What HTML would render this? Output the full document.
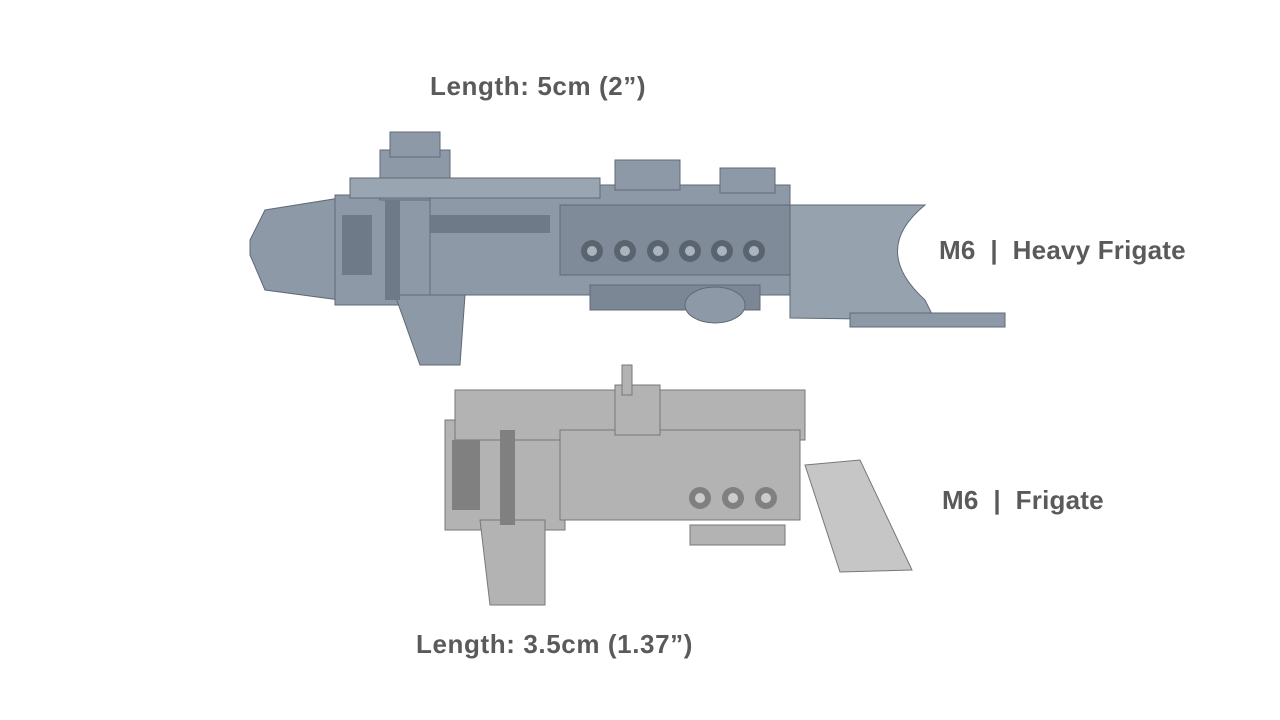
<!DOCTYPE html>
<html><head><meta charset="utf-8"><style>
html,body{margin:0;padding:0;background:#fff;width:1280px;height:720px;overflow:hidden}
.t{position:absolute;font-family:"Liberation Sans",sans-serif;font-weight:bold;color:#5a5a5a;font-size:26px;letter-spacing:0.6px;white-space:nowrap}
.m{letter-spacing:0.2px}
</style></head><body>
<div class="t" style="left:430px;top:71px">Length: 5cm (2”)</div>
<div class="t m" style="left:939px;top:235px">M6 &nbsp;|&nbsp; Heavy Frigate</div>
<div class="t m" style="left:942px;top:485px">M6 &nbsp;|&nbsp; Frigate</div>
<div class="t" style="left:416px;top:629px">Length: 3.5cm (1.37”)</div>
<svg width="1280" height="720" style="position:absolute;left:0;top:0">
<g fill="#8d99a7" stroke="#5f6a77" stroke-width="1">
<path d="M250,240 L265,210 L340,198 L340,300 L265,290 L250,255Z"/>
<rect x="335" y="195" width="100" height="110"/>
<rect x="380" y="150" width="70" height="50"/>
<rect x="390" y="132" width="50" height="25"/>
<rect x="430" y="185" width="360" height="110"/>
<rect x="560" y="205" width="235" height="70" fill="#7f8b99"/>
<rect x="615" y="160" width="65" height="30"/>
<rect x="720" y="168" width="55" height="25"/>
<path d="M790,205 L925,205 Q870,250 925,300 L935,320 L790,318Z" fill="#97a2af"/>
<path d="M395,295 L465,295 L460,365 L420,365Z"/>
<rect x="590" y="285" width="170" height="25" fill="#7c8795"/>
<ellipse cx="715" cy="305" rx="30" ry="18"/>
<rect x="850" y="313" width="155" height="14"/>
<rect x="350" y="178" width="250" height="20" fill="#9aa5b2"/>
</g>
<g fill="#5a6470">
<circle cx="592" cy="251" r="11"/><circle cx="625" cy="251" r="11"/><circle cx="658" cy="251" r="11"/>
<circle cx="690" cy="251" r="11"/><circle cx="722" cy="251" r="11"/><circle cx="754" cy="251" r="11"/>
</g>
<g fill="#aab4bf">
<circle cx="592" cy="251" r="5"/><circle cx="625" cy="251" r="5"/><circle cx="658" cy="251" r="5"/>
<circle cx="690" cy="251" r="5"/><circle cx="722" cy="251" r="5"/><circle cx="754" cy="251" r="5"/>
</g>
<g fill="#6e7a88"><rect x="342" y="215" width="30" height="60"/><rect x="385" y="200" width="15" height="100"/><rect x="430" y="215" width="120" height="18"/></g>
<g fill="#b3b3b3" stroke="#777" stroke-width="1">
<rect x="445" y="420" width="120" height="110"/>
<rect x="455" y="390" width="350" height="50"/>
<rect x="560" y="430" width="240" height="90"/>
<rect x="615" y="385" width="45" height="50"/>
<rect x="622" y="365" width="10" height="30"/>
<path d="M480,520 L545,520 L545,605 L490,605Z"/>
<path d="M805,465 L860,460 L912,570 L840,572Z" fill="#c6c6c6"/>
<rect x="690" y="525" width="95" height="20"/>
</g>
<g fill="#808080"><circle cx="700" cy="498" r="11"/><circle cx="733" cy="498" r="11"/><circle cx="766" cy="498" r="11"/>
<rect x="452" y="440" width="28" height="70"/><rect x="500" y="430" width="15" height="95"/></g>
<g fill="#ccc"><circle cx="700" cy="498" r="5"/><circle cx="733" cy="498" r="5"/><circle cx="766" cy="498" r="5"/></g>
</svg>
</body></html>
